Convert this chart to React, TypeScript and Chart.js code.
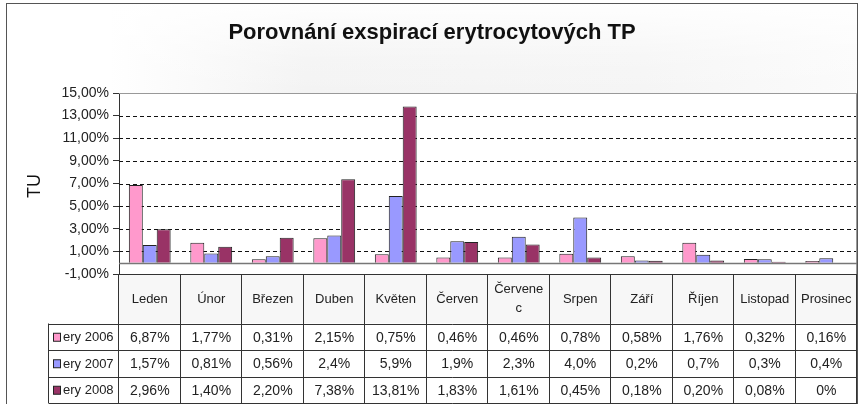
import React, { useEffect, useRef } from "react";
import { Chart, registerables } from "chart.js";

Chart.register(...registerables);

const titleText = "Porovnání exspirací erytrocytových TP";
const yAxisTitle = "TU";
const categories = ["Leden", "Únor", "Březen", "Duben", "Květen", "Červen", "Červenec", "Srpen", "Září", "Říjen", "Listopad", "Prosinec"];
const headerLines = [["Leden"], ["Únor"], ["Březen"], ["Duben"], ["Květen"], ["Červen"], ["Červene", "c"], ["Srpen"], ["Září"], ["Říjen"], ["Listopad"], ["Prosinec"]];
const seriesNames = ["ery 2006", "ery 2007", "ery 2008"];
const values2006 = [6.87, 1.77, 0.31, 2.15, 0.75, 0.46, 0.46, 0.78, 0.58, 1.76, 0.32, 0.16];
const values2007 = [1.57, 0.81, 0.56, 2.4, 5.9, 1.9, 2.3, 4.0, 0.2, 0.7, 0.3, 0.4];
const values2008 = [2.96, 1.4, 2.2, 7.38, 13.81, 1.83, 1.61, 0.45, 0.18, 0.2, 0.08, 0];
const labels2006 = ["6,87%", "1,77%", "0,31%", "2,15%", "0,75%", "0,46%", "0,46%", "0,78%", "0,58%", "1,76%", "0,32%", "0,16%"];
const labels2007 = ["1,57%", "0,81%", "0,56%", "2,4%", "5,9%", "1,9%", "2,3%", "4,0%", "0,2%", "0,7%", "0,3%", "0,4%"];
const labels2008 = ["2,96%", "1,40%", "2,20%", "7,38%", "13,81%", "1,83%", "1,61%", "0,45%", "0,18%", "0,20%", "0,08%", "0%"];
const seriesColors = ["#FF99CC", "#9999FF", "#993366"];
const yMin = -1;
const yMax = 15;
const yStep = 2;

const FONT = "'Liberation Sans', Arial, sans-serif";

const decorPlugin = {
  id: "decor",
  beforeDraw(chart: any) {
    const ctx = chart.ctx;
    const W = chart.width;
    const H = chart.height;
    const ca = chart.chartArea;
    ctx.save();
    ctx.fillStyle = "#ffffff";
    ctx.fillRect(0, 0, W, H);
    const gh = ctx.createLinearGradient(7, 0, W, 0);
    gh.addColorStop(0, "#ffffff");
    gh.addColorStop(0.12, "#ffffff");
    gh.addColorStop(0.35, "#f3f3f3");
    gh.addColorStop(0.75, "#f5f5f5");
    gh.addColorStop(1, "#fbfbfb");
    ctx.fillStyle = gh;
    ctx.fillRect(7, 4, W - 8, ca.top - 4);
    const gv = ctx.createLinearGradient(0, 4, 0, ca.top);
    gv.addColorStop(0, "rgba(255,255,255,0.9)");
    gv.addColorStop(0.6, "rgba(255,255,255,0.2)");
    gv.addColorStop(1, "rgba(255,255,255,0)");
    ctx.fillStyle = gv;
    ctx.fillRect(7, 4, W - 8, ca.top - 4);
    // frame
    ctx.strokeStyle = "#555";
    ctx.lineWidth = 1;
    ctx.strokeRect(6.5, 3.5, 851, 420);
    // title
    ctx.fillStyle = "#111";
    ctx.font = `bold 22px ${FONT}`;
    ctx.textAlign = "center";
    ctx.textBaseline = "middle";
    ctx.fillText(titleText, 432, 33);
    // y title
    ctx.translate(35, 186);
    ctx.rotate(-Math.PI / 2);
    ctx.font = `18px ${FONT}`;
    ctx.fillStyle = "#111";
    ctx.fillText(yAxisTitle, 0, 0);
    ctx.restore();
  },
  beforeDatasetsDraw(chart: any) {
    const ctx = chart.ctx;
    const ca = chart.chartArea;
    const y = chart.scales.y;
    ctx.save();
    ctx.strokeStyle = "#111";
    ctx.lineWidth = 1;
    ctx.setLineDash([4, 3]);
    for (let v = yMin + yStep; v < yMax; v += yStep) {
      const py = Math.round(y.getPixelForValue(v)) + 0.5;
      ctx.beginPath();
      ctx.moveTo(ca.left, py);
      ctx.lineTo(ca.right, py);
      ctx.stroke();
    }
    ctx.restore();
  },
  afterDatasetsDraw(chart: any) {
    const ctx = chart.ctx;
    const ca = chart.chartArea;
    const y = chart.scales.y;
    const x = chart.scales.x;
    ctx.save();
    // plot border top/right
    ctx.strokeStyle = "#999";
    ctx.lineWidth = 1;
    ctx.beginPath();
    ctx.moveTo(ca.left, Math.round(ca.top) + 0.5);
    ctx.lineTo(ca.right, Math.round(ca.top) + 0.5);
    ctx.moveTo(Math.round(ca.right) - 0.5, ca.top);
    ctx.lineTo(Math.round(ca.right) - 0.5, ca.bottom);
    ctx.stroke();
    // zero line
    const zy = Math.round(y.getPixelForValue(0)) + 0.5;
    ctx.strokeStyle = "#777";
    ctx.lineWidth = 1.5;
    ctx.beginPath();
    ctx.moveTo(ca.left, zy);
    ctx.lineTo(ca.right, zy);
    ctx.stroke();

    // data table
    const n = categories.length;
    const colW = (x.right - x.left) / n;
    const top = Math.round(ca.bottom) + 0.5;
    const headerBottom = top + 49;
    const rowH = 26.5;
    const tableBottom = headerBottom + rowH * 3;
    const legendLeft = 48.5;
    ctx.fillStyle = "#f7f7f7";
    ctx.fillRect(x.left, top, x.right - x.left, headerBottom - top);
    ctx.fillStyle = "#ffffff";
    ctx.fillRect(legendLeft, headerBottom, x.right - legendLeft, tableBottom - headerBottom);
    ctx.strokeStyle = "#333";
    ctx.lineWidth = 1;
    ctx.beginPath();
    ctx.moveTo(x.left, top);
    ctx.lineTo(x.right, top);
    for (let r = 0; r <= 3; r++) {
      const ry = Math.round(headerBottom + r * rowH) + 0.5;
      ctx.moveTo(legendLeft, ry);
      ctx.lineTo(x.right, ry);
    }
    ctx.moveTo(legendLeft, headerBottom);
    ctx.lineTo(legendLeft, tableBottom);
    for (let i = 0; i <= n; i++) {
      const cx = Math.round(x.left + i * colW) - 0.5;
      ctx.moveTo(cx, top);
      ctx.lineTo(cx, tableBottom);
    }
    ctx.stroke();

    ctx.textAlign = "center";
    ctx.textBaseline = "middle";
    ctx.fillStyle = "#222";
    ctx.font = `13px ${FONT}`;
    for (let i = 0; i < n; i++) {
      const cx = x.getPixelForValue(i);
      const lines = headerLines[i];
      const lh = 19;
      const startY = (top + headerBottom) / 2 - ((lines.length - 1) * lh) / 2;
      lines.forEach((l, k) => ctx.fillText(l, cx, startY + k * lh));
    }
    const allLabels = [labels2006, labels2007, labels2008];
    for (let r = 0; r < 3; r++) {
      const cy = headerBottom + r * rowH + rowH / 2 + 1;
      ctx.font = `14px ${FONT}`;
      ctx.textAlign = "center";
      ctx.fillStyle = "#222";
      for (let i = 0; i < n; i++) {
        ctx.fillText(allLabels[r][i], x.getPixelForValue(i), cy);
      }
      // legend key
      ctx.fillStyle = seriesColors[r];
      ctx.fillRect(53.5, cy - 4.5, 7, 8);
      ctx.strokeStyle = "#222";
      ctx.strokeRect(53.5, cy - 4.5, 7, 8);
      ctx.fillStyle = "#222";
      ctx.textAlign = "left";
      ctx.font = `13px ${FONT}`;
      ctx.fillText(seriesNames[r], 63, cy);
    }
    ctx.restore();
  },
};

export default function App() {
  const ref = useRef<HTMLCanvasElement | null>(null);
  useEffect(() => {
    if (!ref.current) return;
    const chart = new Chart(ref.current, {
      type: "bar",
      data: {
        labels: categories,
        datasets: [
          { label: seriesNames[0], data: values2006, backgroundColor: seriesColors[0], borderColor: "#222", borderWidth: 1 },
          { label: seriesNames[1], data: values2007, backgroundColor: seriesColors[1], borderColor: "#222", borderWidth: 1 },
          { label: seriesNames[2], data: values2008, backgroundColor: seriesColors[2], borderColor: "#222", borderWidth: 1 },
        ],
      },
      options: {
        responsive: false,
        animation: false,
        devicePixelRatio: 1,
        layout: { padding: { left: 0, top: 93, right: 1, bottom: 130 } },
        plugins: { legend: { display: false }, title: { display: false }, tooltip: { enabled: false } },
        datasets: { bar: { categoryPercentage: 0.68, barPercentage: 1 } },
        scales: {
          x: { display: false },
          y: {
            min: yMin,
            max: yMax,
            afterFit: (s: any) => { s.width = 119; },
            ticks: {
              stepSize: yStep,
              color: "#222",
              font: { family: FONT, size: 14 },
              padding: 4,
              callback: (v: any) => Number(v).toFixed(2).replace(".", ",") + "%",
            },
            grid: { drawOnChartArea: false, drawTicks: true, tickLength: 6, color: "#333" },
            border: { display: true, color: "#333" },
          },
        },
      },
      plugins: [decorPlugin],
    });
    return () => chart.destroy();
  }, []);
  return (
    <div style={{ position: "absolute", left: 0, top: 0, width: 858, height: 404 }}>
      <canvas ref={ref} width={858} height={404} style={{ display: "block", width: 858, height: 404 }} />
    </div>
  );
}
